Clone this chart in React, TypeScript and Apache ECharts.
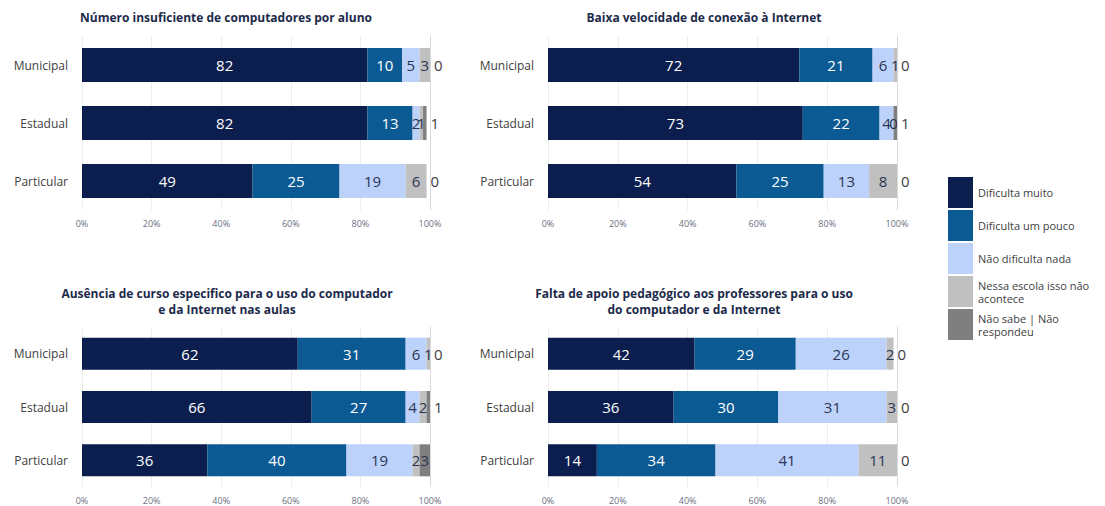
import React, { useEffect, useRef } from "react";
import * as echarts from "echarts";

const categories = ["Municipal", "Estadual", "Particular"];
const seriesNames = [
  "Dificulta muito",
  "Dificulta um pouco",
  "Não dificulta nada",
  "Nessa escola isso não acontece",
  "Não sabe | Não respondeu",
];
const tickLabels = ["0%", "20%", "40%", "60%", "80%", "100%"];

const panelTitles = [
  "Número insuficiente de computadores por aluno",
  "Baixa velocidade de conexão à Internet",
  "Ausência de curso especifico para o uso do computador\ne da Internet nas aulas",
  "Falta de apoio pedagógico aos professores para o uso\ndo computador e da Internet",
];

// values per panel: [series][category]
const panel1 = [
  [82, 82, 49],
  [10, 13, 25],
  [5, 2, 19],
  [3, 1, 6],
  [0, 1, 0],
];
const panel2 = [
  [72, 73, 54],
  [21, 22, 25],
  [6, 4, 13],
  [1, 0, 8],
  [0, 1, 0],
];
const panel3 = [
  [62, 66, 36],
  [31, 27, 40],
  [6, 4, 19],
  [1, 2, 2],
  [0, 1, 3],
];
const panel4 = [
  [42, 36, 14],
  [29, 30, 34],
  [26, 31, 41],
  [2, 3, 11],
  [0, 0, 0],
];
const panels = [panel1, panel2, panel3, panel4];

const colors = ["#0b1e4e", "#0b5a94", "#bcd2fa", "#c0c0c0", "#7f7f7f"];
const labelColors = ["#ffffff", "#ffffff", "#2b3553", "#2b3553", "#2b3553"];

const grids = [
  { left: 82, width: 348, top: 36, height: 174 },
  { left: 548, width: 349, top: 36, height: 174 },
  { left: 82, width: 348, top: 327, height: 160 },
  { left: 548, width: 349, top: 327, height: 160 },
];
const barWidths = [34, 34, 32, 32];
const titlePos = [
  { x: 226, y: 17 },
  { x: 704, y: 17 },
  { x: 227, y: 301 },
  { x: 694, y: 301 },
];

const FONT = "'Open Sans', 'Noto Sans', sans-serif";

export default function App() {
  const ref = useRef<HTMLDivElement>(null);
  useEffect(() => {
    if (!ref.current) return;
    const chart = echarts.init(ref.current, undefined, { renderer: "svg" });

    const xAxis: any[] = [];
    const yAxis: any[] = [];
    const series: any[] = [];

    panels.forEach((panel, p) => {
      xAxis.push({
        type: "value",
        gridIndex: p,
        min: 0,
        max: 100,
        interval: 20,
        axisLine: { show: false },
        axisTick: { show: false },
        splitLine: { show: true, lineStyle: { color: "#ededed", width: 1 } },
        axisLabel: {
          formatter: (v: number) => tickLabels[Math.round(v / 20)],
          fontSize: 9,
          color: "#6b6f80",
          fontFamily: FONT,
          margin: 9,
        },
      });
      yAxis.push({
        type: "category",
        gridIndex: p,
        data: categories,
        inverse: true,
        axisLine: { show: false },
        axisTick: { show: false },
        axisLabel: { fontSize: 12, color: "#404040", fontFamily: FONT, margin: 14 },
      });
      panel.forEach((vals, s) => {
        series.push({
          type: "bar",
          name: seriesNames[s],
          xAxisIndex: p,
          yAxisIndex: p,
          stack: "p" + p,
          barWidth: barWidths[p],
          itemStyle: { color: colors[s] },
          data: vals.map((v) => {
            const outside = s === 4 && v < 2;
            return {
              value: v,
              label: {
                show: true,
                position: outside ? "right" : "inside",
                distance: 4,
                color: outside ? "#404040" : labelColors[s],
                fontSize: 15,
                fontFamily: FONT,
              },
            };
          }),
          markLine:
            s === 0
              ? {
                  silent: true,
                  symbol: "none",
                  label: { show: false },
                  lineStyle: { color: "#d9d9d9", type: "solid", width: 1 },
                  data: [{ xAxis: 100 }],
                }
              : undefined,
        });
      });
    });

    const graphic: any[] = panelTitles.map((t, i) => ({
      type: "text",
      x: titlePos[i].x,
      y: titlePos[i].y,
      style: {
        text: t,
        fill: "#1c2a4a",
        font: `bold 12px ${FONT}`,
        textAlign: "center",
        textVerticalAlign: "middle",
        lineHeight: 16,
      },
    }));

    chart.setOption({
      animation: false,
      backgroundColor: "#ffffff",
      grid: grids.map((g) => ({ ...g, containLabel: false })),
      xAxis,
      yAxis,
      series,
      graphic,
      legend: {
        orient: "vertical",
        left: 943,
        top: 172,
        itemWidth: 25,
        itemHeight: 31,
        itemGap: 2,
        icon: "rect",
        data: seriesNames,
        formatter: (name: string) =>
          name === "Nessa escola isso não acontece"
            ? "Nessa escola isso não\nacontece"
            : name === "Não sabe | Não respondeu"
            ? "Não sabe | Não\nrespondeu"
            : name,
        textStyle: { fontSize: 11, color: "#404040", fontFamily: FONT, lineHeight: 13 },
        selectedMode: false,
      },
    });
    return () => chart.dispose();
  }, []);
  return (
    <div
      ref={ref}
      style={{ position: "fixed", left: 0, top: 0, width: 1105, height: 506 }}
    />
  );
}
